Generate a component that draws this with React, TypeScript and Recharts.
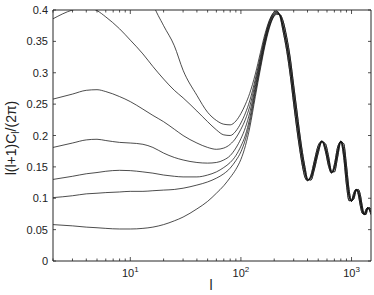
import React from 'react';
import { LineChart, Line, XAxis, YAxis } from 'recharts';

// multipole moments l
const L_VALUES = [
  2, 3, 4, 5, 6, 8, 10, 13, 16, 20, 25, 30, 40, 50, 60, 70, 80, 90, 100,
  110, 120, 135, 150, 165, 180, 195, 210, 225,
  240, 260, 280, 300, 320, 340, 360, 380, 400, 430, 460, 500, 540, 580, 620, 660, 700,
  750, 800, 850, 900, 950, 1000, 1050, 1100, 1150, 1200, 1250, 1300, 1350, 1400, 1450, 1500,
];

// l(l+1)C_l/(2pi) for the seven models (lowest to highest at low l)
const CURVE_1 = [
  0.058, 0.056, 0.054, 0.053, 0.052, 0.051, 0.051, 0.052, 0.054, 0.058, 0.064, 0.070, 0.083, 0.095, 0.108, 0.120, 0.133, 0.146, 0.162,
  0.184, 0.212, 0.262, 0.306, 0.343, 0.370, 0.387, 0.393, 0.393,
  0.383, 0.356, 0.322, 0.280, 0.241, 0.204, 0.173, 0.149, 0.131, 0.129, 0.145, 0.172, 0.190, 0.187, 0.167, 0.143, 0.142,
  0.166, 0.190, 0.187, 0.153, 0.114, 0.096, 0.099, 0.112, 0.114, 0.106, 0.088, 0.075, 0.074, 0.083, 0.085, 0.082,
];
const CURVE_2 = [
  0.101, 0.104, 0.107, 0.108, 0.109, 0.110, 0.111, 0.111, 0.112, 0.113, 0.114, 0.116, 0.121, 0.126, 0.132, 0.139, 0.148, 0.160, 0.174,
  0.194, 0.220, 0.268, 0.310, 0.346, 0.372, 0.388, 0.394, 0.393,
  0.383, 0.356, 0.322, 0.280, 0.241, 0.204, 0.173, 0.149, 0.131, 0.129, 0.145, 0.172, 0.190, 0.187, 0.167, 0.143, 0.142,
  0.166, 0.190, 0.187, 0.153, 0.114, 0.096, 0.099, 0.112, 0.114, 0.106, 0.088, 0.075, 0.074, 0.083, 0.085, 0.082,
];
const CURVE_3 = [
  0.130, 0.135, 0.139, 0.141, 0.143, 0.1445, 0.144, 0.142, 0.140, 0.137, 0.135, 0.134, 0.134, 0.137, 0.142, 0.149, 0.157, 0.168, 0.183,
  0.201, 0.227, 0.273, 0.314, 0.349, 0.374, 0.389, 0.395, 0.392,
  0.375, 0.345, 0.308, 0.265, 0.226, 0.191, 0.162, 0.141, 0.129, 0.133, 0.152, 0.178, 0.191, 0.181, 0.159, 0.141, 0.148,
  0.174, 0.191, 0.176, 0.137, 0.104, 0.095, 0.104, 0.114, 0.111, 0.097, 0.081, 0.074, 0.078, 0.085, 0.083, 0.078,
];
const CURVE_4 = [
  0.181, 0.188, 0.193, 0.194, 0.192, 0.189, 0.188, 0.186, 0.181, 0.172, 0.165, 0.161, 0.157, 0.156, 0.157, 0.161, 0.168, 0.180, 0.195,
  0.213, 0.236, 0.278, 0.318, 0.352, 0.377, 0.391, 0.396, 0.392,
  0.375, 0.345, 0.308, 0.265, 0.226, 0.191, 0.162, 0.141, 0.129, 0.133, 0.152, 0.178, 0.191, 0.181, 0.159, 0.141, 0.148,
  0.174, 0.191, 0.176, 0.137, 0.104, 0.095, 0.104, 0.114, 0.111, 0.097, 0.081, 0.074, 0.078, 0.085, 0.083, 0.078,
];
const CURVE_5 = [
  0.258, 0.266, 0.272, 0.273, 0.270, 0.262, 0.254, 0.242, 0.232, 0.222, 0.210, 0.200, 0.188, 0.181, 0.178, 0.180, 0.186, 0.196, 0.210,
  0.226, 0.246, 0.284, 0.322, 0.355, 0.379, 0.392, 0.397, 0.392,
  0.375, 0.345, 0.308, 0.265, 0.226, 0.191, 0.162, 0.141, 0.129, 0.133, 0.152, 0.178, 0.191, 0.181, 0.159, 0.141, 0.148,
  0.174, 0.191, 0.176, 0.137, 0.104, 0.095, 0.104, 0.114, 0.111, 0.097, 0.081, 0.074, 0.078, 0.085, 0.083, 0.078,
];
const CURVE_6 = [
  0.386, 0.400, 0.404, 0.399, 0.389, 0.370, 0.352, 0.330, 0.310, 0.290, 0.272, 0.260, 0.239, 0.222, 0.209, 0.201, 0.200, 0.207, 0.220,
  0.236, 0.255, 0.290, 0.326, 0.358, 0.381, 0.394, 0.398, 0.391,
  0.367, 0.334, 0.294, 0.250, 0.211, 0.178, 0.151, 0.133, 0.128, 0.137, 0.159, 0.184, 0.191, 0.175, 0.151, 0.140, 0.154,
  0.182, 0.190, 0.165, 0.121, 0.096, 0.097, 0.109, 0.114, 0.106, 0.088, 0.076, 0.075, 0.082, 0.085, 0.081, 0.074,
];
const CURVE_7 = [
  0.620, 0.640, 0.650, 0.645, 0.630, 0.590, 0.540, 0.460, 0.410, 0.375, 0.343, 0.304, 0.264, 0.237, 0.224, 0.218, 0.217, 0.223, 0.235,
  0.250, 0.267, 0.298, 0.332, 0.362, 0.383, 0.395, 0.399, 0.390,
  0.367, 0.334, 0.294, 0.250, 0.211, 0.178, 0.151, 0.133, 0.128, 0.137, 0.159, 0.184, 0.191, 0.175, 0.151, 0.140, 0.154,
  0.182, 0.190, 0.165, 0.121, 0.096, 0.097, 0.109, 0.114, 0.106, 0.088, 0.076, 0.075, 0.082, 0.085, 0.081, 0.074,
];

const X_TICKS = [2, 3, 4, 5, 6, 7, 8, 9, 10, 20, 30, 40, 50, 60, 70, 80, 90, 100, 200, 300, 400, 500, 600, 700, 800, 900, 1000];
const X_MAJOR = [10, 100, 1000];
const X_MAJOR_EXP = ['1', '2', '3'];
const Y_TICKS = [0, 0.05, 0.1, 0.15, 0.2, 0.25, 0.3, 0.35, 0.4];
const Y_TICK_LABELS = ['0', '0.05', '0.1', '0.15', '0.2', '0.25', '0.3', '0.35', '0.4'];

const CURVES = [CURVE_1, CURVE_2, CURVE_3, CURVE_4, CURVE_5, CURVE_6, CURVE_7];
const data = L_VALUES.map((l, i) => {
  const row: Record<string, number> = { l };
  CURVES.forEach((c, k) => {
    row['c' + (k + 1)] = c[i];
  });
  return row;
});

const FONT = '"Liberation Sans", Arial, Helvetica, sans-serif';
const AXIS = '#262626';
const LINE = '#111';

function BottomTick(props: any) {
  const { x, y, payload } = props;
  const idx = X_MAJOR.indexOf(payload.value);
  const major = idx >= 0;
  return (
    <g>
      <line x1={x} x2={x} y1={y} y2={y - (major ? 4 : 2.5)} stroke={AXIS} strokeWidth={0.8} />
      {major && (
        <text x={x} y={y + 16} textAnchor="middle" fontSize={11} fontFamily={FONT} fill="#222">
          10<tspan dy={-5} fontSize={8}>{X_MAJOR_EXP[idx]}</tspan>
        </text>
      )}
    </g>
  );
}

function TopTick(props: any) {
  const { x, y, payload } = props;
  const major = X_MAJOR.indexOf(payload.value) >= 0;
  return <line x1={x} x2={x} y1={y} y2={y + (major ? 4 : 2.5)} stroke={AXIS} strokeWidth={0.8} />;
}

function LeftTick(props: any) {
  const { x, y, payload } = props;
  const idx = Y_TICKS.indexOf(payload.value);
  return (
    <g>
      <line x1={x} x2={x + 3} y1={y} y2={y} stroke={AXIS} strokeWidth={0.8} />
      <text x={x - 5} y={y + 4} textAnchor="end" fontSize={11} fontFamily={FONT} fill="#222">
        {Y_TICK_LABELS[idx]}
      </text>
    </g>
  );
}

function RightTick(props: any) {
  const { x, y } = props;
  return <line x1={x} x2={x - 3} y1={y} y2={y} stroke={AXIS} strokeWidth={0.8} />;
}

export default function App() {
  return (
    <div style={{ position: 'absolute', left: 0, top: 0, width: 374, height: 295, background: '#fff' }}>
      <LineChart width={374} height={295} data={data} margin={{ top: 0, right: 0, bottom: 0, left: 0 }}>
        <XAxis
          xAxisId="b"
          dataKey="l"
          type="number"
          scale="log"
          domain={[2, 1500]}
          allowDataOverflow
          ticks={X_TICKS}
          interval={0}
          tick={<BottomTick />}
          tickLine={false}
          tickSize={0}
          tickMargin={0}
          height={34}
          axisLine={{ stroke: AXIS }}
        />
        <XAxis
          xAxisId="t"
          orientation="top"
          dataKey="l"
          type="number"
          scale="log"
          domain={[2, 1500]}
          allowDataOverflow
          ticks={X_TICKS}
          interval={0}
          tick={<TopTick />}
          tickLine={false}
          tickSize={0}
          tickMargin={0}
          height={10}
          axisLine={{ stroke: AXIS }}
        />
        <YAxis
          yAxisId="l"
          type="number"
          domain={[0, 0.4]}
          allowDataOverflow
          ticks={Y_TICKS}
          interval={0}
          tick={<LeftTick />}
          tickLine={false}
          tickSize={0}
          tickMargin={0}
          width={53}
          axisLine={{ stroke: AXIS }}
        />
        <YAxis
          yAxisId="r"
          orientation="right"
          type="number"
          domain={[0, 0.4]}
          allowDataOverflow
          ticks={Y_TICKS}
          interval={0}
          tick={<RightTick />}
          tickLine={false}
          tickSize={0}
          tickMargin={0}
          width={3}
          axisLine={{ stroke: AXIS }}
        />
        {CURVES.map((_, k) => (
          <Line
            key={k}
            xAxisId="b"
            yAxisId="l"
            type="monotone"
            dataKey={'c' + (k + 1)}
            stroke={LINE}
            strokeWidth={0.75}
            dot={false}
            activeDot={false}
            isAnimationActive={false}
          />
        ))}
      </LineChart>
      <svg
        width={374}
        height={295}
        style={{ position: 'absolute', left: 0, top: 0, pointerEvents: 'none' }}
      >
        <text x={211} y={290} textAnchor="middle" fontSize={14} fontFamily={FONT} fill="#222">
          l
        </text>
        <text
          transform="rotate(-90)"
          x={-138}
          y={16}
          textAnchor="middle"
          fontSize={14}
          fontFamily={FONT}
          fill="#222"
        >
          l(l+1)C<tspan dy={3} fontSize={10}>l</tspan>
          <tspan dy={-3}>/(2π)</tspan>
        </text>
      </svg>
    </div>
  );
}
